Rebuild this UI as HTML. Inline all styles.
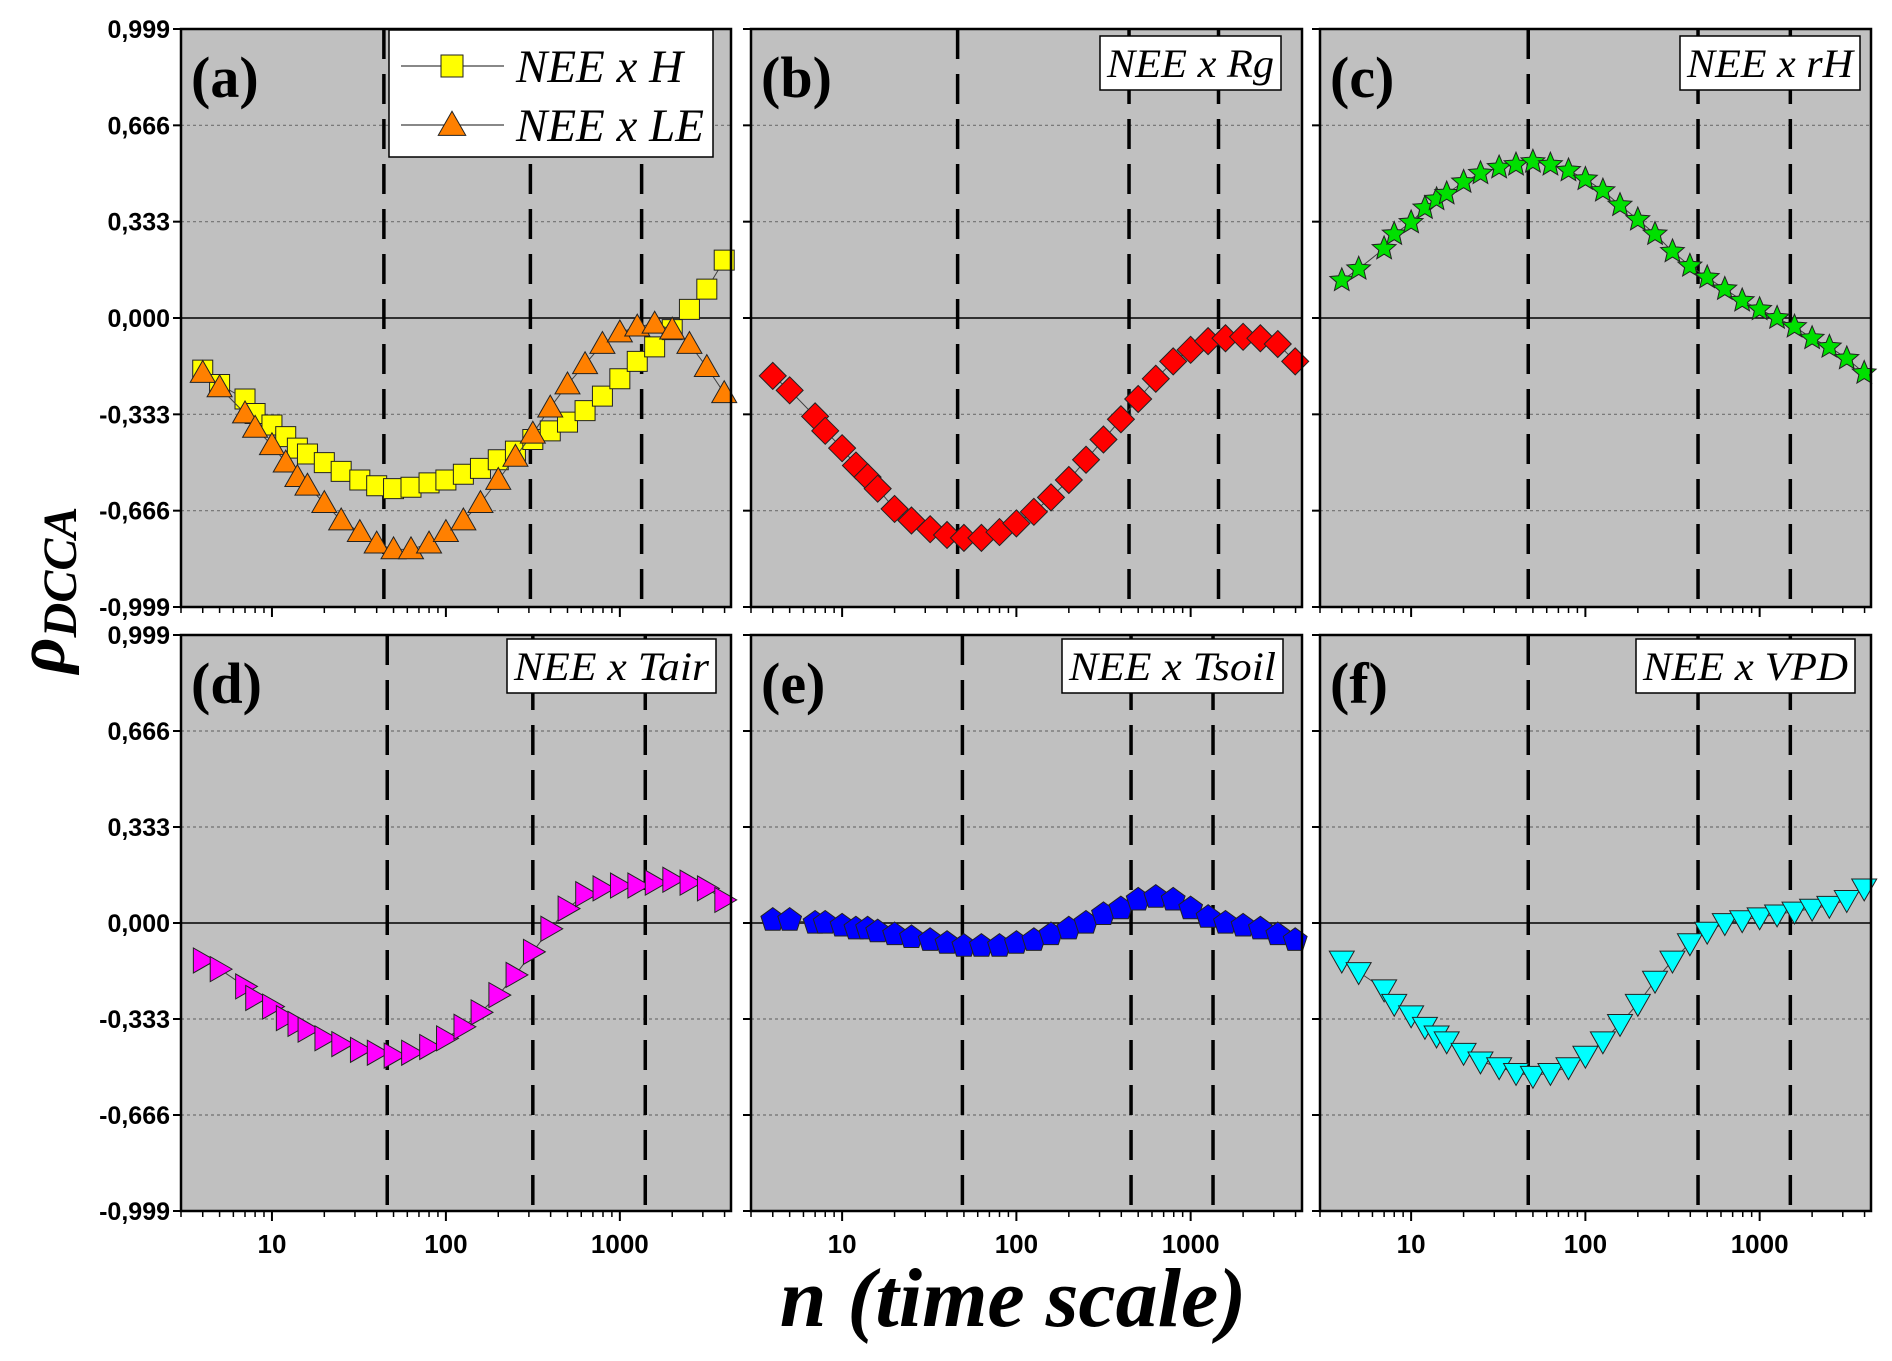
<!DOCTYPE html>
<html><head><meta charset="utf-8">
<style>
html,body{margin:0;padding:0;background:#fff;}
svg{display:block;}
</style></head>
<body>
<svg id="chart" width="1892" height="1361" viewBox="0 0 1892 1361" xmlns="http://www.w3.org/2000/svg">
<text x="1013" y="1326" text-anchor="middle" font-family="Liberation Serif, serif" font-weight="bold" font-style="italic" font-size="84">n (time scale)</text>
<text transform="translate(64,590) rotate(-90)" text-anchor="middle" font-family="Liberation Serif, serif" font-weight="bold" font-style="italic" font-size="70">ρ<tspan font-size="48" dy="12">DCCA</tspan></text>
</svg>
<script>
const nVals = [4,5,7,8,10,12,14,16,20,25,32,40,50,63,80,100,126,158,200,251,316,398,500,631,794,1000,1259,1585,2000,2512,3162,3981];
const seriesH = [-0.18,-0.23,-0.28,-0.33,-0.37,-0.41,-0.45,-0.47,-0.50,-0.53,-0.56,-0.58,-0.59,-0.585,-0.57,-0.56,-0.54,-0.52,-0.49,-0.46,-0.42,-0.39,-0.36,-0.32,-0.27,-0.21,-0.15,-0.10,-0.04,0.03,0.10,0.20];
const seriesLE = [-0.19,-0.24,-0.33,-0.38,-0.44,-0.50,-0.55,-0.58,-0.64,-0.70,-0.74,-0.78,-0.80,-0.80,-0.78,-0.74,-0.70,-0.64,-0.56,-0.48,-0.40,-0.31,-0.23,-0.16,-0.09,-0.05,-0.03,-0.02,-0.04,-0.09,-0.17,-0.26];
const seriesRg = [-0.20,-0.25,-0.34,-0.39,-0.45,-0.51,-0.55,-0.59,-0.66,-0.70,-0.73,-0.75,-0.76,-0.76,-0.74,-0.71,-0.67,-0.62,-0.56,-0.49,-0.42,-0.35,-0.28,-0.21,-0.15,-0.11,-0.08,-0.07,-0.065,-0.07,-0.09,-0.15];
const seriesRH = [0.13,0.17,0.24,0.29,0.33,0.38,0.41,0.43,0.47,0.50,0.52,0.53,0.54,0.53,0.51,0.48,0.44,0.39,0.34,0.29,0.23,0.18,0.14,0.10,0.06,0.03,0.00,-0.03,-0.07,-0.10,-0.14,-0.19];
const seriesTair = [-0.13,-0.16,-0.22,-0.26,-0.29,-0.33,-0.35,-0.37,-0.40,-0.42,-0.44,-0.45,-0.46,-0.45,-0.43,-0.40,-0.36,-0.31,-0.25,-0.18,-0.10,-0.02,0.05,0.10,0.12,0.13,0.13,0.14,0.15,0.14,0.12,0.08];
const seriesTsoil = [0.01,0.01,0.00,0.00,-0.01,-0.02,-0.02,-0.03,-0.04,-0.05,-0.06,-0.07,-0.08,-0.08,-0.08,-0.07,-0.06,-0.04,-0.02,0.00,0.03,0.05,0.08,0.09,0.08,0.05,0.02,0.00,-0.01,-0.02,-0.04,-0.06];
const seriesVPD = [-0.13,-0.17,-0.23,-0.28,-0.32,-0.36,-0.39,-0.41,-0.45,-0.48,-0.50,-0.52,-0.53,-0.52,-0.50,-0.46,-0.41,-0.35,-0.28,-0.20,-0.13,-0.07,-0.03,0.00,0.01,0.02,0.03,0.04,0.05,0.06,0.08,0.12];
const yTicks = [0.999,0.666,0.333,0,-0.333,-0.666,-0.999];
const yTickLabels = ["0,999","0,666","0,333","0,000","-0,333","-0,666","-0,999"];
const xTicks = [10,100,1000];
const xTickLabels = ["10","100","1000"];
const dashA = [44,306,1334], dashB = [46,443,1445], dashC = [47,443,1500];
const dashD = [46,316,1400], dashE = [49,455,1344], dashF = [47,443,1500];

const NS = "http://www.w3.org/2000/svg";
const svg = document.getElementById('chart');
function mk(tag, attrs, parent){ const e=document.createElementNS(NS,tag); for(const k in attrs) e.setAttribute(k,attrs[k]); (parent||svg).appendChild(e); return e; }

const colX=[[181,731],[751,1302],[1320,1871]];
const rowY=[[29,607],[635,1211]];
const xMin=Math.log10(3), xMax=Math.log10(4355);

const panels=[
 {id:'a',c:0,r:0,series:[{d:seriesH,fill:'#ffff00',m:'square'},{d:seriesLE,fill:'#ff8000',m:'tri-up'}],dash:dashA},
 {id:'b',c:1,r:0,series:[{d:seriesRg,fill:'#ff0000',m:'diamond'}],dash:dashB,label:'NEE x Rg',box:[1100,36,1281,90]},
 {id:'c',c:2,r:0,series:[{d:seriesRH,fill:'#00e000',m:'star'}],dash:dashC,label:'NEE x rH',box:[1680,36,1860,90]},
 {id:'d',c:0,r:1,series:[{d:seriesTair,fill:'#ff00ff',m:'tri-right'}],dash:dashD,label:'NEE x Tair',box:[507,639,716,693]},
 {id:'e',c:1,r:1,series:[{d:seriesTsoil,fill:'#0000ff',m:'pentagon'}],dash:dashE,label:'NEE x Tsoil',box:[1062,639,1283,693]},
 {id:'f',c:2,r:1,series:[{d:seriesVPD,fill:'#00ffff',m:'tri-down'}],dash:dashF,label:'NEE x VPD',box:[1636,639,1855,693]}
];

function markerPath(m,x,y,s){
  const h=s/2;
  if(m==='square') return `M${x-h},${y-h}h${s}v${s}h${-s}z`;
  if(m==='diamond'){const d=h*1.35;return `M${x},${y-d}L${x+d},${y}L${x},${y+d}L${x-d},${y}z`;}
  if(m==='tri-up'){const d=h*1.25;return `M${x},${y-d}L${x+d},${y+d*0.75}L${x-d},${y+d*0.75}z`;}
  if(m==='tri-down'){const d=h*1.25;return `M${x},${y+d}L${x+d},${y-d*0.75}L${x-d},${y-d*0.75}z`;}
  if(m==='tri-right'){const d=h*1.25;return `M${x+d},${y}L${x-d*0.75},${y-d}L${x-d*0.75},${y+d}z`;}
  if(m==='pentagon'||m==='star'){
    let p='';const n=m==='star'?10:5;const R=h*1.25;
    for(let i=0;i<n;i++){const a=-Math.PI/2+i*2*Math.PI/n;const r=(m==='star'&&i%2)?R*0.45:R;p+=(i?'L':'M')+(x+r*Math.cos(a)).toFixed(1)+','+(y+r*Math.sin(a)).toFixed(1);}
    return p+'z';
  }
}

panels.forEach(p=>{
  const [x0,x1]=colX[p.c],[y0,y1]=rowY[p.r];
  const sx=v=>x0+(Math.log10(v)-xMin)/(xMax-xMin)*(x1-x0);
  const sy=v=>y0+(0.999-v)/1.998*(y1-y0);
  const g=mk('g',{});
  
  
  const bg=mk('rect',{x:x0,y:y0,width:x1-x0,height:y1-y0,fill:'#c0c0c0'},g);
  
  
  yTicks.forEach((t,i)=>{
    const y=sy(t);
    if(t!==0 && Math.abs(t)<0.9){const gl=mk('line',{x1:x0,x2:x1,y1:y,y2:y,stroke:'#707070','stroke-width':1.2,'stroke-dasharray':'3,3'},g);
      }
    if(t===0){const zl=mk('line',{x1:x0,x2:x1,y1:y,y2:y,stroke:'#000','stroke-width':1.5},g);
      }
    mk('line',{x1:x0-8,x2:x0,y1:y,y2:y,stroke:'#000','stroke-width':2},g);
    if(p.c===0){const tl=mk('text',{x:x0-11,y:y+9,'text-anchor':'end','font-family':'Liberation Sans, sans-serif','font-weight':'bold','font-size':25},g);
      tl.textContent=yTickLabels[i];}
  });
  for(let dec=1;dec<=1000;dec*=10){for(let k=1;k<10;k++){const v=dec*k;if(v<3||v>4355)continue;const x=sx(v);
    mk('line',{x1:x,x2:x,y1:y1,y2:y1+(k===1?10:6),stroke:'#000','stroke-width':k===1?2:1.5},g);}}
  if(p.r===1){xTicks.forEach((t,i)=>{const tl=mk('text',{x:sx(t),y:y1+42,'text-anchor':'middle','font-family':'Liberation Sans, sans-serif','font-weight':'bold','font-size':26},g);
    tl.textContent=xTickLabels[i];});}
  p.dash.forEach(v=>{const dl=mk('line',{x1:sx(v),x2:sx(v),y1:y0,y2:y1,stroke:'#000','stroke-width':3.5,'stroke-dasharray':'30,15'},g);
    });
  p.series.forEach((s,si)=>{
    let d='';s.d.forEach((v,i)=>{d+=(i?'L':'M')+sx(nVals[i]).toFixed(1)+','+sy(v).toFixed(1);});
    const ln=mk('path',{d:d,fill:'none',stroke:'#404040','stroke-width':1},g);
    
    s.d.forEach((v,i)=>{const mp=mk('path',{d:markerPath(s.m,sx(nVals[i]),sy(v),20),fill:s.fill,stroke:'#222','stroke-width':1},g);
      });
  });
  mk('rect',{x:x0,y:y0,width:x1-x0,height:y1-y0,fill:'none',stroke:'#000','stroke-width':2.5},g);
  const lt=mk('text',{x:x0+10,y:y0+68,'font-family':'Liberation Serif, serif','font-weight':'bold','font-size':58},g);
  lt.textContent='('+p.id+')';
  if(p.label){const b=p.box;
    const br=mk('rect',{x:b[0],y:b[1],width:b[2]-b[0],height:b[3]-b[1],fill:'#fff',stroke:'#000','stroke-width':1.5},g);
    
    const t=mk('text',{x:(b[0]+b[2])/2,y:b[3]-13,'text-anchor':'middle','font-family':'Liberation Serif, serif','font-style':'italic','font-size':40,textLength:(b[2]-b[0]-14),lengthAdjust:'spacingAndGlyphs'},g);
    t.textContent=p.label;}
});
const lg=mk('g',{});


mk('rect',{x:389,y:30,width:324,height:127,fill:'#fff',stroke:'#000','stroke-width':1.5},lg);
[['NEE x H','#ffff00','square',66],['NEE x LE','#ff8000','tri-up',125]].forEach(e=>{
  mk('line',{x1:401,x2:504,y1:e[3],y2:e[3],stroke:'#404040','stroke-width':1.2},lg);
  mk('path',{d:markerPath(e[2],452,e[3],22),fill:e[1],stroke:'#222','stroke-width':1},lg);
  const t=mk('text',{x:516,y:e[3]+16,'font-family':'Liberation Serif, serif','font-style':'italic','font-size':47},lg);
  t.textContent=e[0];
  
  
});
</script>
</body></html>
